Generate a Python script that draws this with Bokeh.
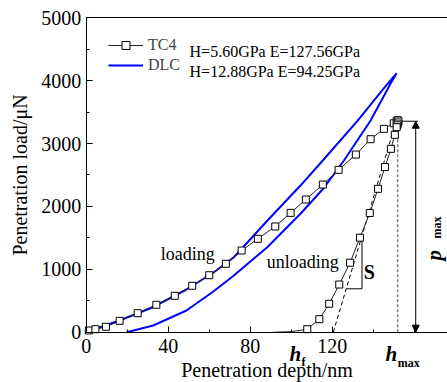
import numpy as np
from bokeh.plotting import figure
from bokeh.models import (Range1d, SingleIntervalTicker, FixedTicker, LinearAxis, Legend,
                          LegendItem, Label, Arrow, NormalHead)
from bokeh.embed import file_html
from bokeh.resources import INLINE

# ---------------- data ----------------
tc4_load_x = [1.3, 4.5, 9.6, 16.3, 25.1, 34.2, 43.2, 51.7, 60.0, 68.1, 75.8, 83.7,
              92.2, 99.7, 107.1, 115.4, 123.1, 131.5, 138.7, 145.2, 150.0, 151.4]
tc4_load_y = [27, 48, 86, 181, 302, 436, 579, 738, 906, 1088, 1299, 1485,
              1681, 1898, 2110, 2348, 2582, 2825, 3069, 3234, 3323, 3355]
tc4_hold_x = [151.9, 152.3, 152.0, 151.7]
tc4_hold_y = [3372, 3350, 3318, 3290]
tc4_unload_x = [151.4, 150.5, 148.6, 145.7, 142.3, 138.3, 133.5, 128.7, 123.4, 118.5, 113.7, 107.8]
tc4_unload_y = [3260, 3139, 2916, 2627, 2280, 1895, 1503, 1105, 758, 452, 207, 48]
tc4_start_x = [0.0]
tc4_start_y = [0]
tc4_tail_x = [100.0, 91.5]
tc4_tail_y = [8, 0]

dlc_load_x = [0.0, 16.2, 32.8, 48.9, 62.1, 71.9, 88.4, 104.5, 115.8, 132.4, 145.0, 151.4]
dlc_load_y = [0, 186, 401, 679, 949, 1188, 1776, 2332, 2746, 3366, 3875, 4118]
dlc_unload_x = [151.4, 148.4, 138.7, 125.7, 115.9, 104.5, 88.3, 71.4, 62.0, 48.9, 32.7, 19.7]
dlc_unload_y = [4118, 3950, 3366, 2730, 2293, 1883, 1352, 886, 647, 345, 107, 0]

tangent_x = [120.5, 150.3]
tangent_y = [0, 3260]
triangle_x = [127.0, 134.5, 134.5]
triangle_y = [690, 690, 1500]
hmax_line_x = [151.9, 151.9]
hmax_line_y = [0, 3260]
pmax_top_x = [151.4, 161.8]
pmax_top_y = [3355, 3355]
pmax_arrow_x = 160.7
pmax_value = 3355

x_ticks_hidden = {160: ""}
x_axis_bounds = (0, 181)
y_axis_bounds = (0, 5000)

SERIF = "Liberation Serif"

# frame covers the whole canvas; axes are pinned at 0 so texts below them stay visible
p = figure(width=447, height=382, output_backend="svg", toolbar_location=None,
           x_range=Range1d(-41.8, 176.2), y_range=Range1d(-800, 5275),
           min_border_left=0, min_border_right=0, min_border_top=0, min_border_bottom=0)
p.background_fill_color = "white"
p.border_fill_color = "white"
p.outline_line_color = None
p.grid.visible = False

p.xaxis.ticker = SingleIntervalTicker(interval=40, num_minor_ticks=2)
p.yaxis.ticker = SingleIntervalTicker(interval=1000, num_minor_ticks=2)
p.xaxis.major_label_overrides = x_ticks_hidden
p.xaxis.fixed_location = 0
p.yaxis.fixed_location = 0
p.xaxis.bounds = x_axis_bounds
p.yaxis.bounds = y_axis_bounds
for ax in (p.xaxis[0], p.yaxis[0]):
    ax.axis_line_color = "black"
    ax.axis_line_width = 1
    ax.major_tick_in = 6
    ax.major_tick_out = 0
    ax.minor_tick_in = 3
    ax.minor_tick_out = 0
    ax.major_tick_line_color = "black"
    ax.minor_tick_line_color = "black"
    ax.major_label_text_font = SERIF
    ax.major_label_text_font_size = "20px"
    ax.major_label_text_color = "black"
    ax.axis_label_text_font = SERIF
    ax.axis_label_text_font_size = "20px"
    ax.axis_label_text_font_style = "normal"
    ax.axis_label_text_color = "black"
p.xaxis.axis_label = "Penetration depth/nm"
p.yaxis.axis_label = "Penetration load/μN"
p.xaxis.major_label_standoff = 7
p.xaxis.axis_label_standoff = 2
p.yaxis.major_label_standoff = 5
p.yaxis.axis_label_standoff = 8

top = LinearAxis(ticker=FixedTicker(ticks=[]), fixed_location=5000, bounds=x_axis_bounds,
                 axis_line_color="black", axis_line_width=1,
                 major_tick_in=0, major_tick_out=0, minor_tick_in=0, minor_tick_out=0)
p.add_layout(top, "above")

# DLC curve
dlc_x = dlc_load_x + dlc_unload_x[1:]
dlc_y = dlc_load_y + dlc_unload_y[1:]
dlc_r = p.line(dlc_x, dlc_y, line_color="#0000FF", line_width=2)

# annotation lines
p.line(hmax_line_x, hmax_line_y, line_color="#808080", line_width=1.5, line_dash="3 2")
p.line(tangent_x, tangent_y, line_color="black", line_width=1, line_dash="4 3")
p.line(triangle_x, triangle_y, line_color="black", line_width=1)
p.line(pmax_top_x, pmax_top_y, line_color="black", line_width=1)
p.add_layout(Arrow(start=NormalHead(size=7, fill_color="black", line_color="black"),
                   end=NormalHead(size=7, fill_color="black", line_color="black"),
                   x_start=pmax_arrow_x, y_start=pmax_value, x_end=pmax_arrow_x, y_end=0,
                   line_color="black", line_width=1))

# TC4 curve
mk_x = tc4_load_x + tc4_hold_x + tc4_unload_x
mk_y = tc4_load_y + tc4_hold_y + tc4_unload_y
tc4_line = p.line(tc4_start_x + mk_x + tc4_tail_x, tc4_start_y + mk_y + tc4_tail_y,
                  line_color="#222222", line_width=1)
tc4_mk = p.scatter(mk_x, mk_y, marker="square", size=7, fill_color="white",
                   line_color="black", line_width=1)

# legend
leg = Legend(items=[LegendItem(label="TC4", renderers=[tc4_line, tc4_mk]),
                    LegendItem(label="DLC", renderers=[dlc_r])],
             location=(108, 307), glyph_width=35, glyph_height=20, label_height=20,
             label_standoff=5, spacing=0, padding=0, margin=0,
             border_line_color=None, background_fill_alpha=0,
             label_text_font=SERIF, label_text_font_size="16px")
p.add_layout(leg)

def lab(x, y, t, size="16px", style="normal", angle=0, align="left", baseline="alphabetic"):
    p.add_layout(Label(x=x, y=y, text=t, text_font=SERIF, text_font_size=size,
                       text_font_style=style, angle=angle, text_align=align,
                       text_baseline=baseline, text_color="black"))

lab(50.4, 4468, "H=5.60GPa E=127.56GPa")
lab(50.4, 4145, "H=12.88GPa E=94.25GPa")
lab(36.4, 1251, "loading", size="18px")
lab(88.0, 1116, "unloading", size="18px")
lab(135.3, 954, "S", size="20px", style="bold")
lab(99.2, -343, "h", size="21px", style="bold italic")
lab(105.0, -477, "f", size="12px", style="bold")
lab(146.0, -343, "h", size="21px", style="bold italic")
lab(151.9, -482, "max", size="12px", style="bold")
lab(169.8, 1140, "p", size="21px", style="bold italic", angle=np.pi / 2)
lab(170.9, 1490, "max", size="12px", style="bold", angle=np.pi / 2)

open("out.html", "w").write(file_html(p, INLINE))
